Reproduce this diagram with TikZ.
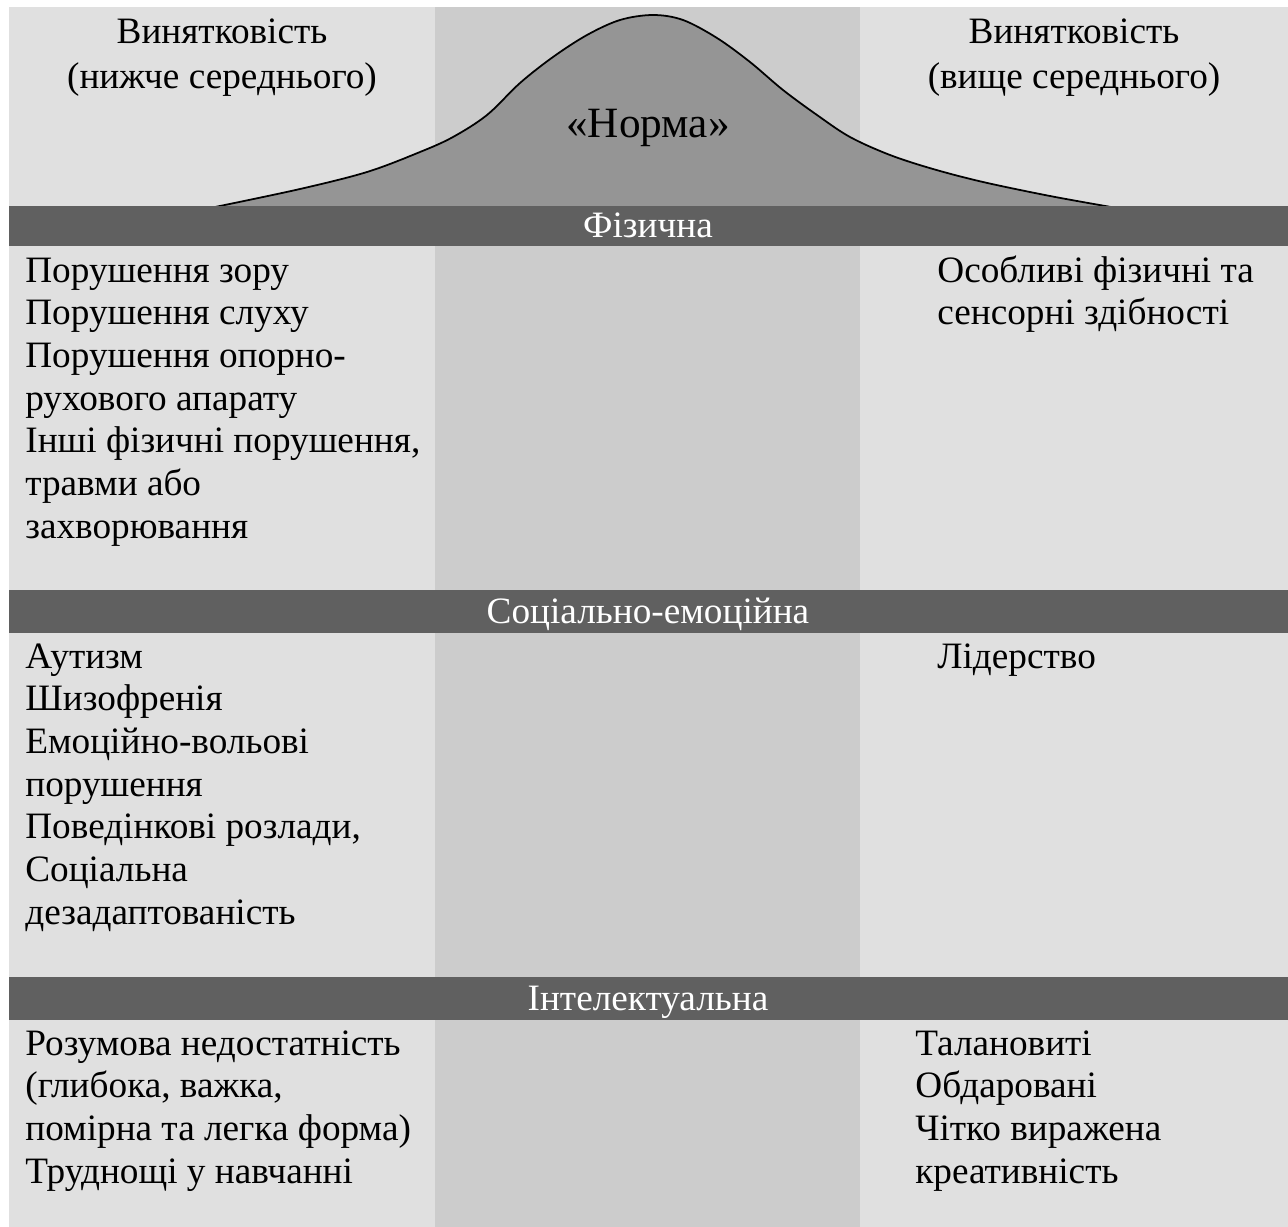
\documentclass[tikz,border=0pt]{standalone}
\usepackage{fontspec}
\setmainfont{Liberation Serif}
\definecolor{bgl}{HTML}{E0E0E0}
\definecolor{bgm}{HTML}{CCCCCC}
\definecolor{bellc}{HTML}{959595}
\definecolor{barc}{HTML}{606060}
\begin{document}
\begin{tikzpicture}[x=0.02cm,y=-0.02cm,
  txt/.style={inner sep=0pt, font=\fontsize{21.2pt}{24.3pt}\selectfont},
  hdrtxt/.style={inner sep=0pt, font=\fontsize{21.2pt}{26pt}\selectfont},
  bigtxt/.style={inner sep=0pt, font=\fontsize{24.6pt}{28pt}\selectfont},
  bartxt/.style={txt, text=white},
  barbox/.style={fill=barc}]
\useasboundingbox (0,0) rectangle (1288,1227);
\fill[white] (0,0) rectangle (1288,1227);
\fill[bgl] (9,7) rectangle (1288,1227);
\fill[bgm] (435,7) rectangle (860,1227);
% bell curve
\def\bellpts{(215,207) (300,189) (367,172) (420,152) (453,137) (487,115) (520,83) (553,57) (587,35) (620,20) (653,15) (683,20) (717,38) (750,62) (783,90) (817,115) (850,137) (890,155) (933,169) (983,182) (1050,196) (1111,207)}
\fill[bellc] plot[smooth,tension=0.55] coordinates {\bellpts} -- cycle;
\draw[line width=1pt] plot[smooth,tension=0.55] coordinates {\bellpts};
% bars
\fill[barbox] (9,206) rectangle (1288,246);
\fill[barbox] (9,590) rectangle (1288,633);
\fill[barbox] (9,977) rectangle (1288,1020);
\node[bartxt, anchor=base] (bphys) at (648,237) {Фізична};
\node[bartxt, anchor=base] (bsoc) at (648,623) {Соціально-емоційна};
\node[bartxt, anchor=base] (bint) at (648,1010) {Інтелектуальна};
% headers
\node[hdrtxt, anchor=base] (hl) at (222,43) {\begin{tabular}[t]{@{}c@{}}Винятковість\\(нижче середнього)\end{tabular}};
\node[hdrtxt, anchor=base] (hr) at (1074,43) {\begin{tabular}[t]{@{}c@{}}Винятковість\\(вище середнього)\end{tabular}};
\node[bigtxt, anchor=base] (norma) at (648,137) {«Норма»};
% physical
\node[txt, anchor=base west] (pl) at (25,282) {\begin{tabular}[t]{@{}l@{}}Порушення зору\\Порушення слуху\\Порушення опорно-\\рухового апарату\\Інші фізичні порушення,\\травми або\\захворювання\end{tabular}};
\node[txt, anchor=base west] (pr) at (937,282) {\begin{tabular}[t]{@{}l@{}}Особливі фізичні та\\сенсорні здібності\end{tabular}};
% social
\node[txt, anchor=base west] (sl) at (25,668) {\begin{tabular}[t]{@{}l@{}}Аутизм\\Шизофренія\\Емоційно-вольові\\порушення\\Поведінкові розлади,\\Соціальна\\дезадаптованість\end{tabular}};
\node[txt, anchor=base west] (sr) at (937,668) {Лідерство};
% intellectual
\node[txt, anchor=base west] (il) at (25,1055) {\begin{tabular}[t]{@{}l@{}}Розумова недостатність\\(глибока, важка,\\помірна та легка форма)\\Труднощі у навчанні\end{tabular}};
\node[txt, anchor=base west] (ir) at (915,1055) {\begin{tabular}[t]{@{}l@{}}Талановиті\\Обдаровані\\Чітко виражена\\креативність\end{tabular}};
\end{tikzpicture}
\end{document}
